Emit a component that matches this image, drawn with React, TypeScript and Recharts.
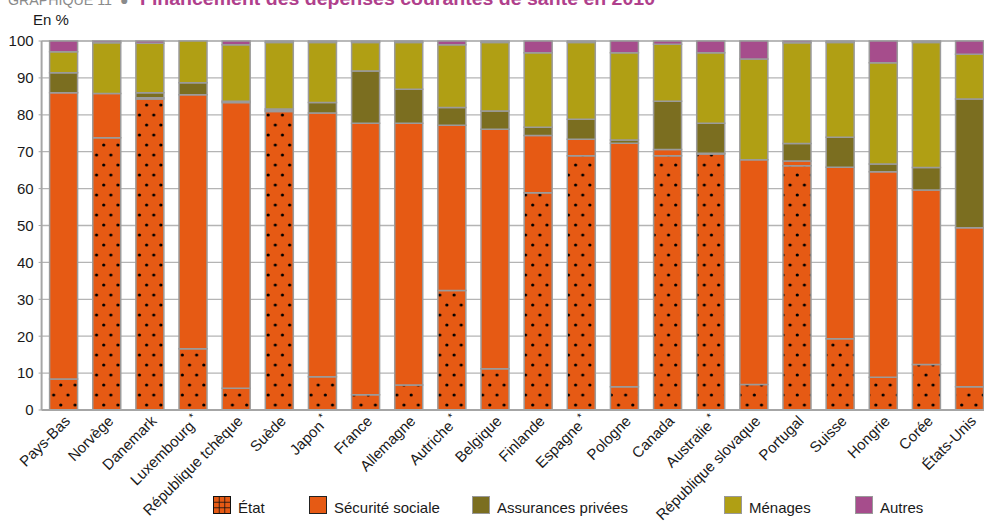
import React from 'react';
import { BarChart, Bar, XAxis, YAxis, CartesianGrid } from 'recharts';

// Financement des dépenses courantes de santé en 2010, en % (pays OCDE)
const countries = [
  'Pays-Bas', 'Norvège', 'Danemark', 'Luxembourg *', 'République tchèque', 'Suède',
  'Japon *', 'France', 'Allemagne', 'Autriche *', 'Belgique', 'Finlande', 'Espagne *',
  'Pologne', 'Canada', 'Australie *', 'République slovaque', 'Portugal', 'Suisse',
  'Hongrie', 'Corée', 'États-Unis',
];

const etat = [8.4, 73.8, 84.3, 16.6, 5.9, 80.9, 9.0, 4.1, 6.8, 32.4, 11.2, 58.9, 68.9, 6.3, 68.9, 69.4, 6.9, 66.2, 19.3, 8.9, 12.3, 6.3];
const securiteSociale = [77.6, 12.0, 0.3, 68.8, 77.4, 0.3, 71.5, 73.6, 70.9, 44.8, 64.9, 15.5, 4.5, 66.0, 1.7, 0.2, 60.9, 1.3, 46.5, 55.7, 47.3, 43.1];
const assurancesPrivees = [5.4, 0, 1.4, 3.3, 0.4, 0.4, 2.8, 14.2, 9.2, 4.8, 4.9, 2.2, 5.4, 0.9, 13.1, 8.1, 0, 4.7, 8.1, 2.1, 6.1, 34.9];
const menages = [5.7, 13.7, 13.4, 11.3, 15.3, 18.0, 16.3, 7.7, 12.7, 17.0, 18.6, 20.2, 20.8, 23.6, 15.4, 19.1, 27.3, 27.3, 25.7, 27.4, 33.9, 12.1];
const autres = [2.9, 0.5, 0.6, 0, 1.0, 0.4, 0.4, 0.4, 0.4, 1.0, 0.4, 3.2, 0.4, 3.2, 0.9, 3.2, 4.9, 0.5, 0.4, 5.9, 0.4, 3.6];

const yTicks = [0, 10, 20, 30, 40, 50, 60, 70, 80, 90, 100];

const series = [
  { key: 'etat', name: 'État', color: '#e65a14' },
  { key: 'secu', name: 'Sécurité sociale', color: '#e65a14' },
  { key: 'assur', name: 'Assurances privées', color: '#7b6e20' },
  { key: 'menages', name: 'Ménages', color: '#b09f14' },
  { key: 'autres', name: 'Autres', color: '#a64d8c' },
];

const rows = countries.map((country, i) => ({
  country,
  etat: etat[i],
  secu: securiteSociale[i],
  assur: assurancesPrivees[i],
  menages: menages[i],
  autres: autres[i],
}));

const FONT = '"Liberation Sans", Arial, sans-serif';
const TEXT = '#1a1a1a';
const EDGE = '#9b9b9b';

// x position of each legend swatch
const legendX = [213, 309, 472, 724, 855];

const CountryTick = (props: any) => {
  const { x, y, payload } = props;
  const label: string = payload.value;
  const starred = label.endsWith(' *');
  const name = starred ? label.slice(0, -2) : label;
  const px = x + 8;
  const py = y + 12;
  return (
    <text
      x={px}
      y={py}
      transform={`rotate(-45 ${px} ${py})`}
      textAnchor="end"
      fontSize={15}
      fontFamily={FONT}
      fill={TEXT}
    >
      {name}
      {starred && <tspan dx={3} dy={-6} fontSize={11}>*</tspan>}
    </text>
  );
};

// legend swatch for the dotted "État" series: orange with a black "#" grid
const EtatSwatch = ({ x, y }: { x: number; y: number }) => {
  const cells = [];
  for (let r = 0; r < 3; r++) {
    for (let c = 0; c < 3; c++) {
      cells.push(
        <rect key={`${r}-${c}`} x={x + 1 + c * 5.6} y={y + 1 + r * 5.6} width={4.8} height={4.8} fill="#e65a14" />
      );
    }
  }
  return (
    <g>
      <rect x={x} y={y} width={18} height={18} fill="#111" />
      {cells}
    </g>
  );
};

export default function App() {
  return (
    <div
      style={{
        position: 'absolute',
        left: 0,
        top: 0,
        width: 984,
        height: 523,
        overflow: 'hidden',
        background: '#fff',
        fontFamily: FONT,
      }}
    >
      <BarChart width={1000} height={523} data={rows} margin={{ top: 41, right: 9.3, left: 0, bottom: 0 }}>
        <defs>
          <pattern id="etatDots" patternUnits="userSpaceOnUse" width={14.3} height={20}>
            <rect width={14.3} height={20} fill="#e65a14" />
            <circle cx={3.6} cy={5} r={1.6} fill="#000" />
            <circle cx={10.75} cy={15} r={1.6} fill="#000" />
          </pattern>
        </defs>
        <CartesianGrid vertical={false} stroke="#b4b4b4" strokeWidth={1.3} />
        <XAxis
          dataKey="country"
          interval={0}
          height={113}
          tickLine={false}
          tickSize={0}
          tickMargin={0}
          axisLine={{ stroke: '#a6a6a6', strokeWidth: 2 }}
          tick={<CountryTick />}
        />
        <YAxis
          width={41.6}
          domain={[0, 100]}
          ticks={yTicks}
          interval={0}
          tickSize={3}
          tickMargin={5}
          tickLine={{ stroke: '#a6a6a6' }}
          axisLine={{ stroke: '#a6a6a6', strokeWidth: 2 }}
          tick={{ fontSize: 15, fill: TEXT, fontFamily: FONT }}
        />
        {series.map((s) => (
          <Bar
            key={s.key}
            dataKey={s.key}
            name={s.name}
            stackId="total"
            barSize={28}
            fill={s.key === 'etat' ? 'url(#etatDots)' : s.color}
            stroke={EDGE}
            strokeWidth={1.5}
            isAnimationActive={false}
          />
        ))}
      </BarChart>

      <svg
        width={984}
        height={523}
        style={{ position: 'absolute', left: 0, top: 0, pointerEvents: 'none' }}
        fontFamily={FONT}
      >
        <text x={8} y={5} fontSize={14} fill="#8a8a8a" textLength={104} lengthAdjust="spacingAndGlyphs">
          GRAPHIQUE 11
        </text>
        <text x={120} y={5} fontSize={14} fill="#8a8a8a">●</text>
        <text
          x={140}
          y={5}
          fontSize={18}
          fontWeight="bold"
          fill="#b0408c"
          textLength={515}
          lengthAdjust="spacingAndGlyphs"
        >
          Financement des dépenses courantes de santé en 2010
        </text>
        <text x={33} y={25} fontSize={15} fill={TEXT}>En %</text>

        {series.map((s, i) => (
          <g key={s.key}>
            {s.key === 'etat' ? (
              <EtatSwatch x={legendX[i]} y={496} />
            ) : (
              <rect
                x={legendX[i] + 0.5}
                y={496.5}
                width={17}
                height={17}
                fill={s.color}
                stroke={i === 1 ? '#222' : '#999'}
                strokeWidth={1}
              />
            )}
            <text x={legendX[i] + 25} y={513} fontSize={15} fill={TEXT}>
              {s.name}
            </text>
          </g>
        ))}
      </svg>
    </div>
  );
}
